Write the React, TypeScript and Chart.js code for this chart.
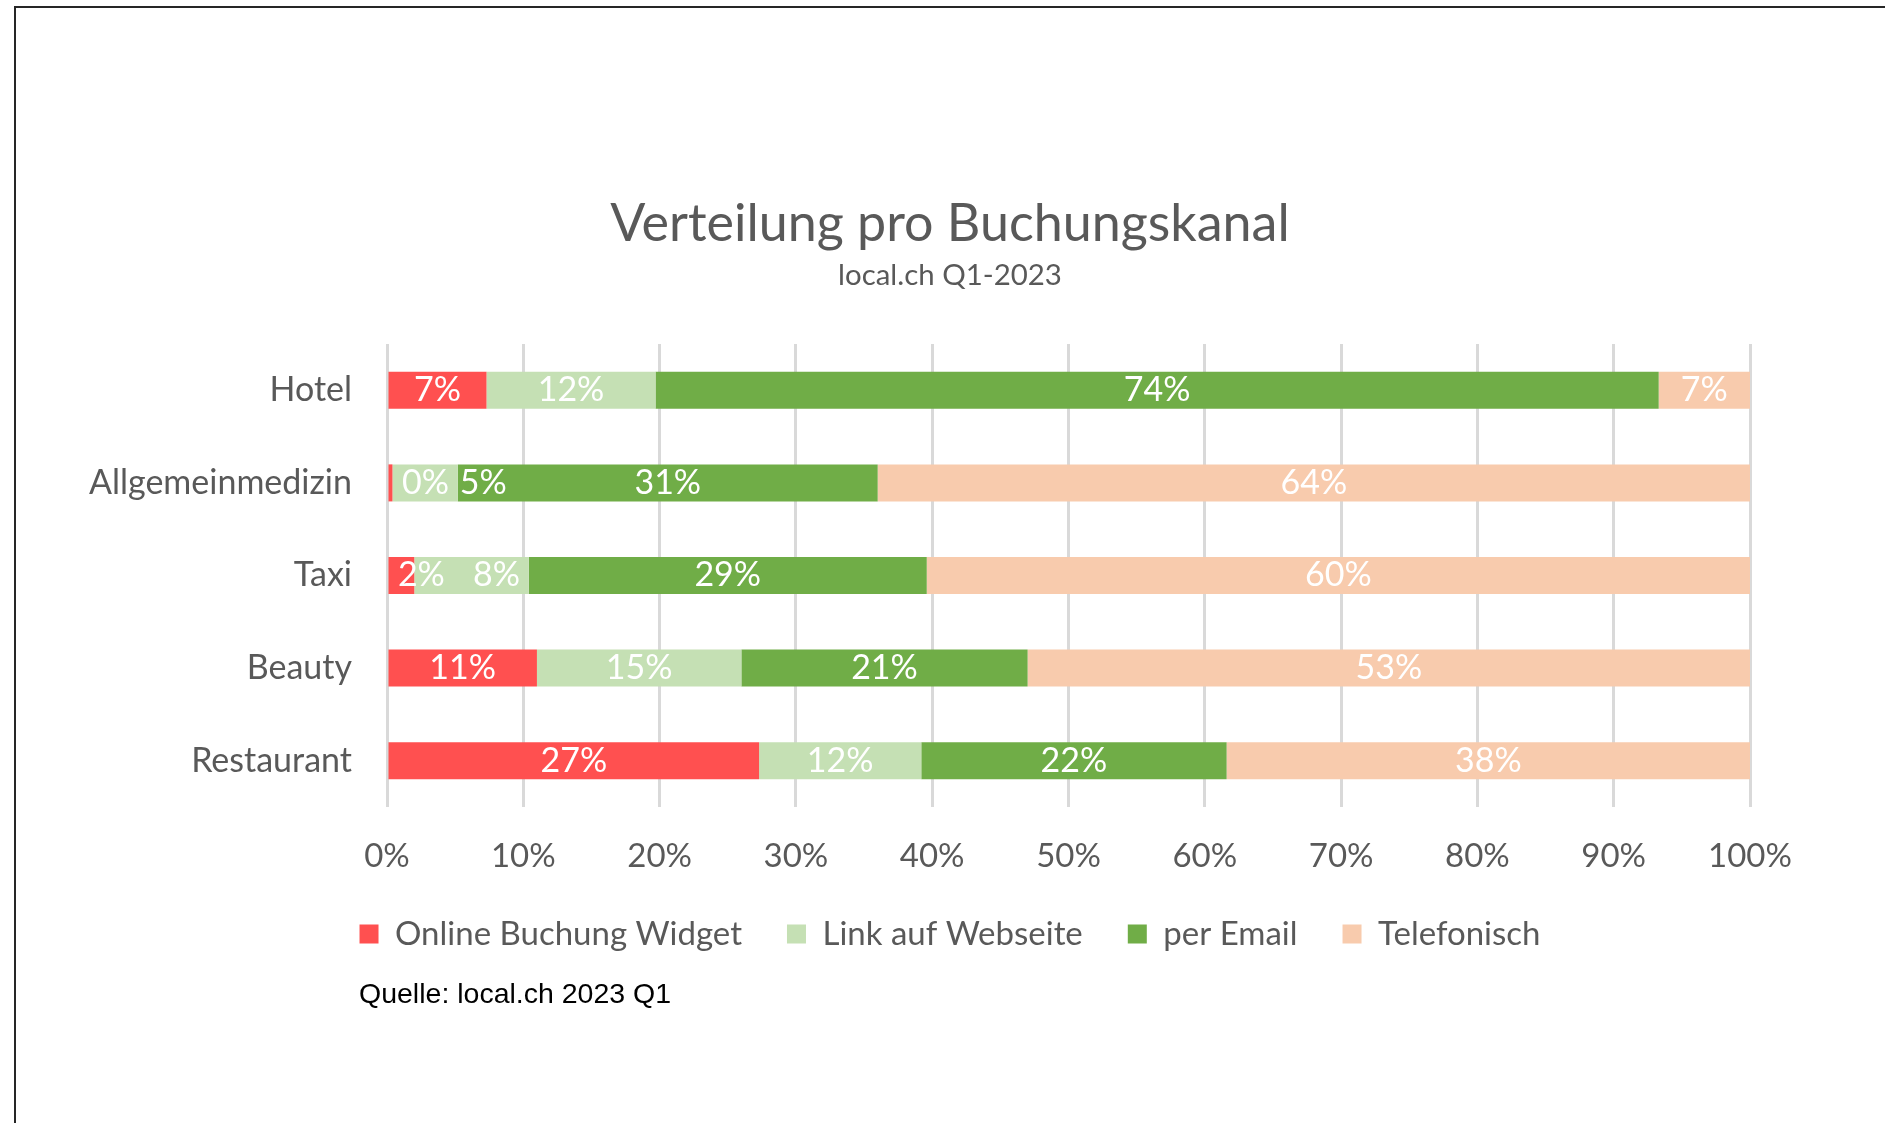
import React, { useEffect, useRef } from "react";
import { Chart, registerables } from "chart.js";

Chart.register(...registerables);

// ---------- data ----------
const categories = ["Hotel", "Allgemeinmedizin", "Taxi", "Beauty", "Restaurant"];
const seriesNames = ["Online Buchung Widget", "Link auf Webseite", "per Email", "Telefonisch"];
const onlineWidget = [7.3, 0.4, 2.0, 11.0, 27.3];
const linkWebseite = [12.4, 4.8, 8.4, 15.0, 11.9];
const perEmail = [73.6, 30.8, 29.2, 21.0, 22.4];
const telefonisch = [6.7, 64.0, 60.4, 53.0, 38.4];
const titleText = "Verteilung pro Buchungskanal";
const subtitleText = "local.ch Q1-2023";
const sourceText = "Quelle: local.ch 2023 Q1";

// ---------- style ----------
const seriesColors = ["#FF5050", "#C5E0B4", "#70AD47", "#F8CBAD"];
const FONT = "Lato";
const GRAY = "#595959";
// manual label shifts (px) like the hand-moved labels in the original
const labelShiftPx: Record<string, number[]> = {
  Allgemeinmedizin: [35, 58, 0, 0],
  Taxi: [20, 25, 0, 0],
};

const valueLabelPlugin = {
  id: "valueLabels",
  afterDatasetsDraw(chart: any) {
    const ctx = chart.ctx;
    ctx.save();
    ctx.font = `34px ${FONT}`;
    ctx.fillStyle = "#FFFFFF";
    ctx.textAlign = "center";
    ctx.textBaseline = "middle";
    chart.data.datasets.forEach((ds: any, di: number) => {
      const meta = chart.getDatasetMeta(di);
      meta.data.forEach((bar: any, i: number) => {
        const v = ds.data[i];
        const cat = chart.data.labels[i];
        const shift = labelShiftPx[cat] ? labelShiftPx[cat][di] : 0;
        const cx = (bar.x + bar.base) / 2 + shift;
        ctx.fillText(Math.round(v) + "%", cx, bar.y);
      });
    });
    ctx.restore();
  },
};

const sourcePlugin = {
  id: "sourceNote",
  afterDraw(chart: any) {
    const ctx = chart.ctx;
    ctx.save();
    ctx.font = `28.5px "Liberation Sans", Arial, sans-serif`;
    ctx.fillStyle = "#000000";
    ctx.textAlign = "left";
    ctx.textBaseline = "middle";
    ctx.fillText(sourceText, 359, 995.5);
    ctx.restore();
  },
};

export default function App() {
  const ref = useRef<HTMLCanvasElement | null>(null);

  useEffect(() => {
    document.body.style.margin = "0";
    document.documentElement.style.overflow = "hidden";
    let chart: Chart | null = null;
    let cancelled = false;
    const fontsReady = (document as any).fonts
      ? Promise.all([
          (document as any).fonts.load(`34px ${FONT}`),
          (document as any).fonts.load(`28px "Liberation Sans"`),
        ]).catch(() => null)
      : Promise.resolve(null);
    fontsReady.then(() => {
      if (cancelled || !ref.current) return;
      const values = [onlineWidget, linkWebseite, perEmail, telefonisch];
      chart = new Chart(ref.current, {
        type: "bar",
        data: {
          labels: categories,
          datasets: seriesNames.map((name, k) => ({
            label: name,
            data: values[k],
            backgroundColor: seriesColors[k],
            borderWidth: 0,
            xAxisID: "x",
            yAxisID: "y",
            categoryPercentage: 1,
            barPercentage: 0.4,
          })),
        },
        options: {
          indexAxis: "y",
          responsive: false,
          animation: false,
          events: [],
          layout: { padding: { left: 15, right: 0, top: 0, bottom: 162.5 } },
          scales: {
            x: {
              type: "linear",
              stacked: true,
              min: 0,
              max: 100,
              ticks: {
                stepSize: 10,
                callback: (v: any) => v + "%",
                color: GRAY,
                font: { family: FONT, size: 33, lineHeight: 1.2 },
                padding: 29.2,
                maxRotation: 0,
                autoSkip: false,
              },
              grid: { color: "#D9D9D9", lineWidth: 3, drawTicks: false },
              border: { display: false },
              afterFit: (s: any) => {
                s.height = 65.5;
              },
            },
            y: {
              type: "category",
              stacked: true,
              ticks: { color: GRAY, font: { family: FONT, size: 34 }, padding: 35 },
              grid: { display: false, drawTicks: false },
              border: { display: false },
              afterFit: (s: any) => {
                s.width = 372;
              },
            },
            yRight: {
              type: "category",
              position: "right",
              grid: { display: false, drawTicks: false },
              border: { display: false },
              ticks: { display: false },
              afterFit: (s: any) => {
                s.width = 135;
              },
            },
          } as any,
          plugins: {
            title: {
              display: true,
              text: titleText,
              color: GRAY,
              font: { family: FONT, size: 52, weight: "normal", lineHeight: 1.2 },
              padding: { top: 193.2, bottom: 0 },
            },
            subtitle: {
              display: true,
              text: subtitleText,
              color: GRAY,
              font: { family: FONT, size: 29.4, weight: "normal", lineHeight: 1.2 },
              padding: { top: 1.96, bottom: 51.16 },
            },
            legend: {
              position: "bottom",
              labels: {
                color: GRAY,
                font: { family: FONT, size: 33 },
                boxWidth: 19,
                boxHeight: 19,
                padding: 45,
              },
            },
            tooltip: { enabled: false },
          },
        } as any,
        plugins: [valueLabelPlugin, sourcePlugin],
      });
    });
    return () => {
      cancelled = true;
      if (chart) chart.destroy();
    };
  }, []);

  return (
    <div style={{ position: "relative", width: 1885, height: 1123, overflow: "hidden", background: "#fff" }}>
      <canvas ref={ref} width={1885} height={1123} style={{ position: "absolute", left: 0, top: 0 }} />
      <div
        style={{
          position: "absolute",
          left: 14,
          top: 6,
          width: 1900,
          height: 1140,
          border: "2px solid #262626",
          pointerEvents: "none",
        }}
      />
    </div>
  );
}
